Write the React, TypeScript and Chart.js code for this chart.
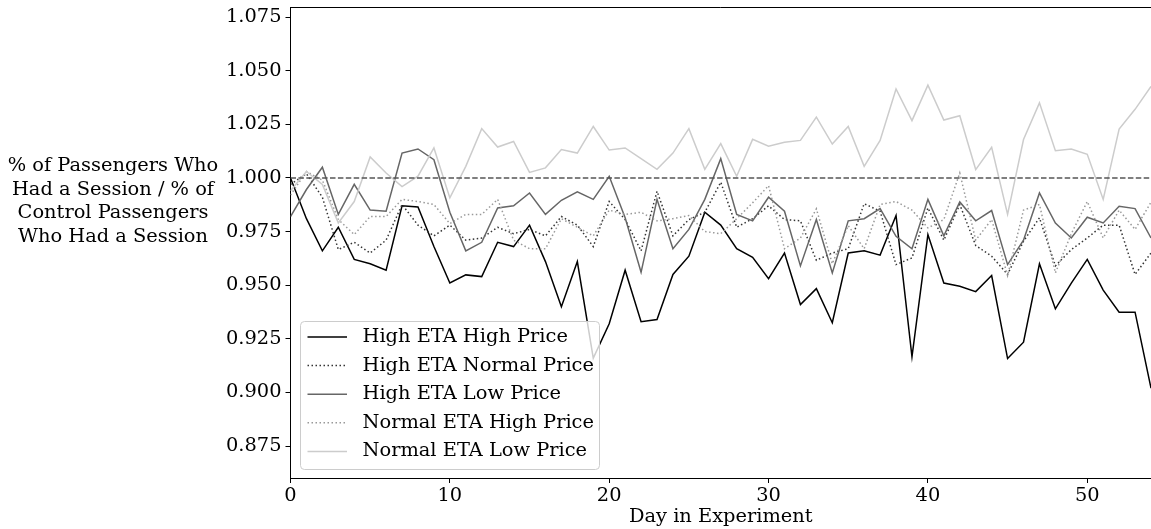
import { useEffect, useRef } from 'react';
import { Chart, registerables } from 'chart.js';

Chart.register(...registerables);

const days = [0,1,2,3,4,5,6,7,8,9,10,11,12,13,14,15,16,17,18,19,20,21,22,23,24,25,26,27,28,29,30,31,32,33,34,35,36,37,38,39,40,41,42,43,44,45,46,47,48,49,50,51,52,53,54];

const highEtaHighPrice = [1.000,0.981,0.966,0.977,0.962,0.960,0.957,0.987,0.9865,0.968,0.951,0.9548,0.954,0.970,0.968,0.978,0.961,0.940,0.961,0.916,0.932,0.957,0.933,0.934,0.955,0.9635,0.984,0.978,0.967,0.963,0.953,0.965,0.941,0.9484,0.9325,0.965,0.966,0.964,0.9825,0.9166,0.9736,0.951,0.9495,0.947,0.9545,0.9158,0.9234,0.960,0.939,0.951,0.962,0.9477,0.9374,0.9374,0.902];

const highEtaNormalPrice = [0.997,1.002,0.991,0.9666,0.970,0.965,0.971,0.9876,0.978,0.973,0.978,0.971,0.972,0.977,0.974,0.976,0.973,0.982,0.978,0.968,0.989,0.9806,0.966,0.9938,0.973,0.9806,0.984,0.998,0.977,0.981,0.987,0.9806,0.980,0.9616,0.965,0.967,0.988,0.9845,0.9596,0.9627,0.986,0.971,0.9876,0.9685,0.9635,0.955,0.9705,0.9814,0.959,0.9666,0.972,0.978,0.978,0.955,0.965];

const highEtaLowPrice = [0.982,0.9946,1.005,0.983,0.997,0.985,0.9845,1.0116,1.0135,1.0085,0.984,0.966,0.970,0.986,0.987,0.993,0.983,0.9896,0.9935,0.990,1.0008,0.9814,0.956,0.990,0.967,0.976,0.990,1.009,0.983,0.980,0.991,0.9845,0.959,0.9806,0.9557,0.980,0.981,0.9857,0.9728,0.967,0.990,0.973,0.9888,0.980,0.9848,0.9596,0.971,0.993,0.979,0.972,0.9817,0.979,0.9868,0.9857,0.972];

const normalEtaHighPrice = [0.992,1.003,0.999,0.9806,0.9736,0.982,0.982,0.990,0.989,0.9876,0.9787,0.983,0.983,0.990,0.971,0.967,0.967,0.981,0.977,0.973,0.985,0.983,0.984,0.980,0.981,0.9825,0.975,0.974,0.981,0.9884,0.9964,0.967,0.972,0.9856,0.960,0.9778,0.967,0.9876,0.989,0.985,0.9767,0.9806,1.0023,0.971,0.9806,0.9545,0.985,0.9876,0.9557,0.974,0.989,0.972,0.985,0.976,0.9887];

const normalEtaLowPrice = [0.994,1.003,0.997,0.979,0.989,1.0098,1.0023,0.996,1.0008,1.014,0.9907,1.0054,1.023,1.0144,1.017,1.0026,1.0047,1.0132,1.0116,1.024,1.013,1.014,1.009,1.004,1.0116,1.023,1.004,1.016,1.0008,1.018,1.0148,1.0166,1.0175,1.0284,1.0158,1.024,1.0054,1.0175,1.0415,1.0267,1.0433,1.027,1.029,1.0039,1.0143,0.983,1.0179,1.035,1.0127,1.0135,1.011,0.990,1.0228,1.032,1.0427];

const seriesLabels = ['High ETA High Price','High ETA Normal Price','High ETA Low Price','Normal ETA High Price','Normal ETA Low Price'];
const seriesColors = ['#000000','#333333','#666666','#999999','#cccccc'];
const seriesDashed = [false,true,false,true,false];

const xTicks = [0,10,20,30,40,50];
const yTicks = [0.875,0.900,0.925,0.950,0.975,1.000,1.025,1.050,1.075];
const referenceLevel = 1.0;

const yTitleLines = ['% of Passengers Who','Had a Session / % of','Control Passengers','Who Had a Session'];
const xTitle = 'Day in Experiment';

const FONT = '"DejaVu Serif", serif';
const FS = 19.4;
const DOT = [1.5, 2.5];

export default function App() {
  const ref = useRef<HTMLCanvasElement | null>(null);

  useEffect(() => {
    const canvas = ref.current;
    if (!canvas) return;
    const allSeries = [highEtaHighPrice, highEtaNormalPrice, highEtaLowPrice, normalEtaHighPrice, normalEtaLowPrice];

    const datasets: any[] = allSeries.map((vals, i) => ({
      label: seriesLabels[i],
      data: days.map((d, j) => ({ x: d, y: vals[j] })),
      borderColor: seriesColors[i],
      borderWidth: 1.5,
      borderDash: seriesDashed[i] ? DOT : [],
      pointRadius: 0,
      tension: 0,
      fill: false,
      order: 5 - i,
    }));
    datasets.push({
      label: 'ref',
      data: [{ x: days[0], y: referenceLevel }, { x: days[days.length - 1], y: referenceLevel }],
      borderColor: '#555555',
      borderWidth: 1.5,
      borderDash: [5.5, 2.4],
      pointRadius: 0,
      fill: false,
      order: -1,
    });

    const decor = {
      id: 'decor',
      afterDraw(chart: any) {
        const ctx = chart.ctx;
        const a = chart.chartArea;
        ctx.save();
        ctx.strokeStyle = '#000';
        ctx.lineWidth = 1;
        ctx.beginPath();
        ctx.moveTo(a.left, a.top + 0.5);
        ctx.lineTo(a.right, a.top + 0.5);
        ctx.stroke();

        ctx.fillStyle = '#000';
        ctx.font = `${FS}px ${FONT}`;
        ctx.textAlign = 'center';
        ctx.textBaseline = 'middle';
        const y0 = 166;
        yTitleLines.forEach((t, i) => ctx.fillText(t, 113, y0 + i * 23.6));

        const bx = 300.5, by = 321.5, bw = 299, bh = 148, r = 4;
        ctx.beginPath();
        ctx.moveTo(bx + r, by);
        ctx.lineTo(bx + bw - r, by);
        ctx.arcTo(bx + bw, by, bx + bw, by + r, r);
        ctx.lineTo(bx + bw, by + bh - r);
        ctx.arcTo(bx + bw, by + bh, bx + bw - r, by + bh, r);
        ctx.lineTo(bx + r, by + bh);
        ctx.arcTo(bx, by + bh, bx, by + bh - r, r);
        ctx.lineTo(bx, by + r);
        ctx.arcTo(bx, by, bx + r, by, r);
        ctx.closePath();
        ctx.fillStyle = 'rgba(255,255,255,0.8)';
        ctx.fill();
        ctx.strokeStyle = '#cccccc';
        ctx.lineWidth = 1;
        ctx.stroke();

        ctx.textAlign = 'left';
        ctx.font = `${FS}px ${FONT}`;
        seriesLabels.forEach((lab, i) => {
          const ly = 337 + i * 28.6;
          ctx.beginPath();
          ctx.strokeStyle = seriesColors[i];
          ctx.lineWidth = 1.5;
          ctx.setLineDash(seriesDashed[i] ? DOT : []);
          ctx.moveTo(307.5, ly);
          ctx.lineTo(347, ly);
          ctx.stroke();
          ctx.setLineDash([]);
          ctx.fillStyle = '#000';
          ctx.fillText(lab, 362.5, ly);
        });
        ctx.restore();
      },
    };

    const chart = new Chart(canvas, {
      type: 'line',
      data: { datasets },
      options: {
        animation: false,
        responsive: false,
        devicePixelRatio: 1,
        layout: { padding: { left: 0, right: 0, top: 7, bottom: 0 } },
        plugins: { legend: { display: false }, tooltip: { enabled: false } },
        scales: {
          x: {
            type: 'linear',
            min: 0,
            max: 54,
            afterBuildTicks: (s: any) => { s.ticks = xTicks.map((v) => ({ value: v })); },
            afterFit: (s: any) => { s.height = 51; s.paddingLeft = 0; s.paddingRight = 0; },
            border: { display: true, color: '#000', width: 1 },
            grid: { display: true, drawOnChartArea: false, drawTicks: true, tickLength: 5, color: '#000' },
            ticks: { color: '#000', font: { family: FONT, size: FS }, padding: 1, maxRotation: 0 },
            title: { display: true, text: xTitle, color: '#000', font: { family: FONT, size: FS }, padding: { top: -3, bottom: 0 } },
          },
          y: {
            type: 'linear',
            min: 0.8601,
            max: 1.0797,
            afterBuildTicks: (s: any) => { s.ticks = yTicks.map((v) => ({ value: v })); },
            afterFit: (s: any) => { s.width = 290.5; s.paddingTop = 0; s.paddingBottom = 0; },
            border: { display: true, color: '#000', width: 1 },
            grid: { display: true, drawOnChartArea: false, drawTicks: true, tickLength: 5, color: '#000' },
            ticks: { color: '#000', font: { family: FONT, size: FS }, padding: 4, callback: (v: any) => Number(v).toFixed(3) },
          },
        },
      },
      plugins: [decor],
    });
    return () => chart.destroy();
  }, []);

  return (
    <div style={{ position: 'fixed', left: 0, top: 0, width: 1151, height: 529, background: '#fff' }}>
      <canvas ref={ref} width={1151} height={529} style={{ display: 'block' }} />
    </div>
  );
}
